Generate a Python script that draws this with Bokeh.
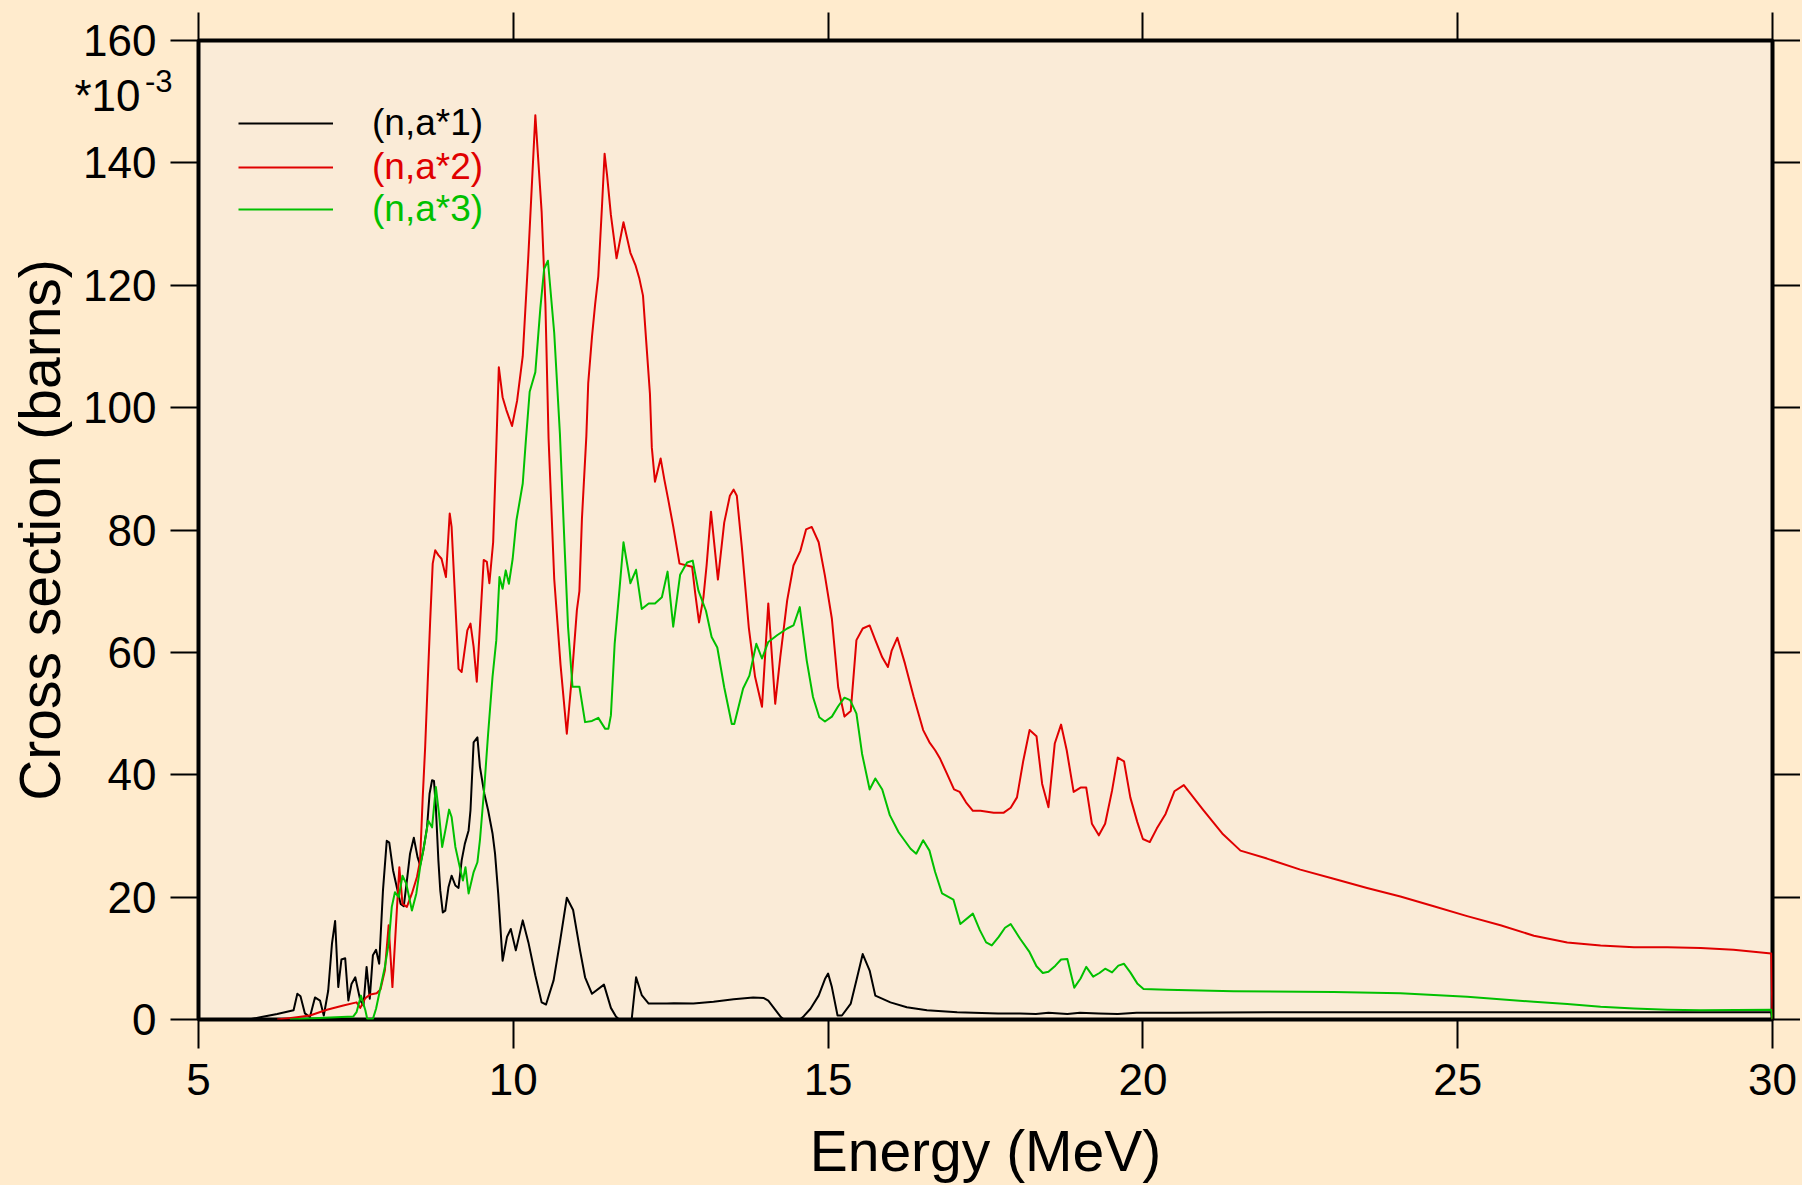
from bokeh.plotting import figure
from bokeh.models import LinearAxis, FixedTicker, Legend, LegendItem, Range1d, CustomJSTickFormatter
from bokeh.embed import file_html
from bokeh.resources import INLINE

# ---------------- data (energy in MeV, cross section in 1e-3 barns) ----------------
x_ticks = [5, 10, 15, 20, 25, 30]
y_ticks = [0, 20, 40, 60, 80, 100, 120, 140, 160]
mult_base_pos = [151.0]      # y position of the "*10" multiplier note
mult_exp_pos = [153.3]       # y position of its exponent "-3"

black_E = [5.80, 6.00, 6.25, 6.51, 6.57, 6.62, 6.69, 6.77, 6.85, 6.93, 6.99, 7.06, 7.12, 7.17, 7.22,
           7.27, 7.33, 7.38, 7.43, 7.49, 7.57, 7.62, 7.67, 7.72, 7.77, 7.82, 7.87, 7.93, 7.99, 8.03,
           8.09, 8.15, 8.21, 8.26, 8.31, 8.36, 8.42, 8.48, 8.52, 8.57, 8.63, 8.67, 8.71, 8.74, 8.77,
           8.81, 8.84, 8.88, 8.92, 8.97, 9.02, 9.08, 9.13, 9.18, 9.23, 9.29, 9.32, 9.37, 9.43, 9.47,
           9.54, 9.60, 9.67, 9.71, 9.76, 9.83, 9.90, 9.96, 10.04, 10.15, 10.24, 10.35, 10.45, 10.52,
           10.64, 10.74, 10.85, 10.95, 11.06, 11.14, 11.25, 11.44, 11.55, 11.63, 11.68, 11.88, 11.95,
           12.04, 12.15, 12.44, 12.55, 12.86, 13.18, 13.50, 13.81, 13.98, 14.05, 14.25, 14.30, 14.55,
           14.60, 14.72, 14.85, 14.95, 15.00, 15.06, 15.15, 15.22, 15.36, 15.45, 15.55, 15.66, 15.75,
           15.99, 16.25, 16.57, 17.05, 17.31, 17.70, 18.05, 18.30, 18.50, 18.80, 19.00, 19.30, 19.60,
           19.90, 20.50, 22.00, 25.00, 28.00, 29.98, 30.00]
black_v = [0.0, 0.4, 0.9, 1.5, 4.2, 3.8, 1.0, 0.4, 3.6, 3.1, 0.65, 4.7, 12.4, 16.1, 5.3,
           9.8, 10.0, 3.1, 5.8, 6.9, 3.1, 2.3, 8.6, 3.4, 10.5, 11.4, 9.1, 21.1, 29.2, 28.9,
           24.4, 21.6, 18.9, 18.5, 22.7, 27.1, 29.7, 26.5, 25.2, 27.6, 31.4, 36.9, 39.1, 39.0, 34.7,
           26.0, 21.1, 17.5, 17.8, 21.6, 23.5, 21.9, 21.5, 26.0, 28.7, 30.9, 34.2, 45.3, 46.1, 41.3,
           36.9, 34.2, 30.4, 27.1, 20.6, 9.6, 13.5, 14.8, 11.3, 16.2, 12.6, 7.2, 2.8, 2.45,
           6.4, 12.6, 19.9, 17.9, 11.3, 6.9, 4.2, 5.7, 1.9, 0.5, 0.0, 0.0, 6.9,
           4.0, 2.6, 2.6, 2.65, 2.6, 2.9, 3.3, 3.6, 3.5, 3.1, 0.4, 0.0, 0.0,
           0.4, 1.75, 3.9, 6.6, 7.5, 5.3, 0.65, 0.65, 2.6, 6.4, 10.7, 8.0, 3.9,
           2.8, 2.0, 1.5, 1.2, 1.1, 1.0, 1.0, 0.9, 1.1, 0.9, 1.1, 1.0, 0.9,
           1.1, 1.1, 1.2, 1.2, 1.2, 1.2, 0.0]

red_E = [6.25, 6.50, 6.77, 7.04, 7.30, 7.51, 7.57, 7.65, 7.73, 7.83, 7.89, 7.96, 8.02, 8.08, 8.15,
         8.19, 8.24, 8.31, 8.39, 8.47, 8.52, 8.56, 8.60, 8.64, 8.68, 8.72, 8.76, 8.81, 8.86, 8.93,
         8.99, 9.02, 9.13, 9.18, 9.27, 9.32, 9.37, 9.42, 9.53, 9.58, 9.62, 9.68, 9.73, 9.77, 9.83,
         9.89, 9.98, 10.06, 10.15, 10.24, 10.35, 10.45, 10.51, 10.56, 10.65, 10.75, 10.85, 10.93,
         11.01, 11.05, 11.09, 11.16, 11.19, 11.25, 11.30, 11.35, 11.41, 11.45, 11.49, 11.55, 11.64,
         11.75, 11.86, 11.94, 12.00, 12.06, 12.11, 12.17, 12.20, 12.25, 12.34, 12.40, 12.46, 12.54,
         12.64, 12.76, 12.84, 12.89, 12.95, 13.02, 13.07, 13.14, 13.25, 13.35, 13.44, 13.50, 13.55,
         13.63, 13.74, 13.84, 13.95, 14.05, 14.16, 14.24, 14.35, 14.45, 14.56, 14.65, 14.74, 14.85,
         14.95, 15.06, 15.16, 15.26, 15.36, 15.45, 15.55, 15.66, 15.75, 15.86, 15.95, 16.01, 16.10,
         16.22, 16.36, 16.51, 16.61, 16.70, 16.78, 16.90, 17.00, 17.09, 17.19, 17.30, 17.42, 17.63,
         17.79, 17.90, 18.00, 18.10, 18.20, 18.31, 18.40, 18.50, 18.60, 18.70, 18.79, 18.90, 19.01,
         19.10, 19.19, 19.30, 19.40, 19.51, 19.60, 19.70, 19.80, 19.91, 20.00, 20.11, 20.22, 20.36,
         20.50, 20.65, 20.96, 21.26, 21.55, 21.97, 22.50, 23.03, 23.56, 24.09, 24.62, 25.15, 25.68,
         26.21, 26.74, 27.27, 27.80, 28.33, 28.86, 29.38, 29.98, 30.00]
red_v = [0.0, 0.3, 0.65, 1.6, 2.3, 2.8, 1.9, 3.5, 4.1, 4.3, 4.9, 8.0, 15.4, 5.3, 17.8,
         24.9, 18.9, 18.4, 20.6, 23.3, 26.0, 36.0, 44.5, 55.0, 65.2, 74.5, 76.7, 75.9, 75.3, 72.3,
         82.7, 80.5, 57.3, 56.8, 63.6, 64.7, 60.9, 55.2, 75.1, 74.8, 71.3, 78.0, 93.5, 106.6, 101.7,
         99.6, 97.0, 101.1, 108.4, 125.0, 147.8, 132.0, 116.9, 95.0, 72.0, 58.0, 46.7, 56.0,
         66.9, 70.0, 81.8, 95.3, 104.0, 111.6, 116.9, 121.5, 133.2, 141.5, 137.9, 131.5, 124.4,
         130.3, 125.3, 123.3, 121.2, 118.3, 111.0, 102.3, 93.5, 87.9, 91.7, 88.2, 85.0, 80.6,
         74.5, 74.2, 74.0, 69.6, 64.9, 69.0, 74.2, 83.0, 71.9, 81.2, 85.6, 86.6, 85.6,
         77.2, 64.1, 56.0, 51.1, 68.0, 51.6, 59.2, 68.5, 74.2, 76.6, 80.1, 80.5, 78.0,
         72.5, 65.5, 54.3, 49.5, 50.4, 62.0, 63.9, 64.4, 62.0, 59.2, 57.6, 60.3, 62.4,
         58.2, 52.7, 47.3, 45.3, 44.0, 42.6, 39.9, 37.6, 37.2, 35.5, 34.1, 34.1, 33.8,
         33.8, 34.6, 36.3, 42.3, 47.3, 46.3, 38.5, 34.7, 45.1, 48.2, 44.0, 37.2, 37.9,
         37.9, 32.0, 30.1, 32.0, 37.4, 42.8, 42.2, 36.3, 32.3, 29.5, 29.0, 31.2, 33.6,
         37.3, 38.3, 34.2, 30.4, 27.6, 26.3, 24.5, 23.0, 21.5, 20.1, 18.5, 16.9, 15.4,
         13.7, 12.6, 12.1, 11.8, 11.8, 11.7, 11.4, 10.8, 0.0]

green_E = [6.45, 7.00, 7.46, 7.51, 7.58, 7.65, 7.68, 7.77, 7.82, 7.88, 7.96, 8.02, 8.07, 8.12, 8.18,
           8.24, 8.30, 8.39, 8.46, 8.52, 8.57, 8.65, 8.71, 8.77, 8.82, 8.87, 8.93, 8.98, 9.02, 9.08,
           9.15, 9.20, 9.24, 9.29, 9.37, 9.43, 9.47, 9.54, 9.60, 9.67, 9.73, 9.78, 9.83, 9.88, 9.93,
           9.99, 10.05, 10.15, 10.20, 10.26, 10.35, 10.43, 10.49, 10.55, 10.65, 10.74, 10.82, 10.87,
           10.94, 11.05, 11.14, 11.25, 11.35, 11.46, 11.51, 11.55, 11.61, 11.69, 11.75, 11.86, 11.95,
           12.04, 12.15, 12.25, 12.36, 12.45, 12.54, 12.65, 12.76, 12.85, 12.94, 13.06, 13.15, 13.24,
           13.35, 13.47, 13.51, 13.65, 13.75, 13.86, 13.95, 14.05, 14.19, 14.35, 14.45, 14.55, 14.66,
           14.76, 14.86, 14.95, 15.06, 15.16, 15.26, 15.35, 15.45, 15.54, 15.66, 15.75, 15.86, 15.98,
           16.12, 16.31, 16.40, 16.51, 16.61, 16.70, 16.81, 16.99, 17.10, 17.30, 17.41, 17.51, 17.60,
           17.71, 17.81, 17.90, 18.05, 18.20, 18.31, 18.41, 18.50, 18.61, 18.70, 18.80, 18.91, 19.01,
           19.10, 19.21, 19.31, 19.40, 19.51, 19.61, 19.70, 19.80, 19.91, 20.01, 20.38, 21.44, 23.03,
           24.09, 25.15, 26.21, 26.74, 27.27, 27.80, 28.33, 28.86, 29.98, 30.00]
green_v = [0.0, 0.3, 0.5, 1.2, 3.9, 1.5, 0.1, 0.1, 1.75, 4.7, 8.6, 12.4, 18.4, 20.8, 20.0,
           23.5, 22.2, 17.8, 20.6, 24.9, 27.6, 32.5, 31.4, 38.0, 33.6, 28.2, 31.4, 34.3, 33.1, 28.2,
           24.9, 22.7, 24.9, 20.6, 24.1, 25.7, 29.3, 38.0, 46.7, 56.0, 62.0, 72.3, 70.4, 73.4, 71.2,
           75.3, 81.6, 87.6, 94.7, 102.6, 105.8, 116.3, 122.7, 124.0, 112.2, 95.8, 76.0, 64.1,
           54.4, 54.4, 48.6, 48.8, 49.3, 47.5, 47.5, 49.7, 61.4, 70.7, 78.0, 71.3, 73.5,
           67.1, 68.0, 68.0, 69.0, 73.2, 64.2, 72.7, 74.7, 75.0, 70.1, 66.8, 62.5, 60.8,
           54.3, 48.3, 48.3, 54.1, 56.2, 61.4, 59.0, 61.7, 62.8, 63.9, 64.4, 67.4, 58.7,
           52.7, 49.4, 48.7, 49.5, 51.2, 52.6, 52.2, 50.0, 43.4, 37.6, 39.4, 37.6, 33.4,
           30.6, 27.9, 27.1, 29.3, 27.6, 24.1, 20.6, 19.6, 15.6, 17.3, 14.6, 12.6, 12.1,
           13.5, 15.0, 15.6, 13.2, 11.0, 8.7, 7.6, 7.8, 8.8, 9.8, 9.9, 5.2, 6.7,
           8.6, 7.0, 7.6, 8.3, 7.7, 8.8, 9.1, 7.7, 5.9, 5.0, 4.85, 4.6, 4.5,
           4.3, 3.7, 2.9, 2.55, 2.1, 1.8, 1.6, 1.5, 1.6, 0.0]

series_labels = ["(n,a*1)", "(n,a*2)", "(n,a*3)"]
series_colors = ["#000000", "#e00000", "#00c000"]
x_title = "Energy (MeV)"
y_title = "Cross section (barns)"
mult_base = "*10"
mult_exp = "-3"

FONT = "Liberation Sans"
OUTER_BG = "#ffebcd"
INNER_BG = "#faebd7"

p = figure(frame_width=1574, frame_height=979,
           x_range=Range1d(5, 30), y_range=Range1d(0, 160),
           output_backend="svg", toolbar_location=None, tools="",
           min_border_left=198, min_border_right=28, min_border_top=40, min_border_bottom=165,
           background_fill_color=INNER_BG, border_fill_color=OUTER_BG,
           outline_line_color="black", outline_line_width=4)
p.xgrid.visible = False
p.ygrid.visible = False


def style_axis(ax, ticks, tick_out, show_labels, standoff):
    ax.ticker = FixedTicker(ticks=ticks)
    ax.major_tick_out = tick_out
    ax.major_tick_in = 0
    ax.major_tick_line_width = 2
    ax.major_tick_line_color = "black"
    ax.minor_tick_line_color = None
    ax.axis_line_color = None
    ax.major_label_text_font = FONT
    if show_labels:
        ax.major_label_text_color = "black"
        ax.major_label_text_font_size = "44px"
        ax.major_label_standoff = standoff
    else:
        ax.major_label_text_color = None
        ax.major_label_text_font_size = "1px"
        ax.major_label_standoff = 0


xa = p.xaxis[0]
style_axis(xa, x_ticks, 29, True, 15)
xa.axis_label = x_title
xa.axis_label_text_font = FONT
xa.axis_label_text_font_size = "57px"
xa.axis_label_text_font_style = "normal"
xa.axis_label_text_color = "black"
xa.axis_label_standoff = 21

ya = p.yaxis[0]
style_axis(ya, y_ticks, 28, True, 14)
ya.axis_label = y_title
ya.axis_label_text_font = FONT
ya.axis_label_text_font_size = "57px"
ya.axis_label_text_font_style = "normal"
ya.axis_label_text_color = "black"
ya.axis_label_standoff = 8

top_ax = LinearAxis()
style_axis(top_ax, x_ticks, 28, False, 0)
p.add_layout(top_ax, "above")
right_ax = LinearAxis()
style_axis(right_ax, y_ticks, 28, False, 0)
p.add_layout(right_ax, "right")


def note_axis(pos, text, size, standoff):
    ax = LinearAxis(ticker=FixedTicker(ticks=pos),
                    formatter=CustomJSTickFormatter(args=dict(t=text), code="return t"))
    ax.major_tick_out = 0
    ax.major_tick_in = 0
    ax.major_tick_line_color = None
    ax.minor_tick_line_color = None
    ax.axis_line_color = None
    ax.major_label_text_font = FONT
    ax.major_label_text_font_size = size
    ax.major_label_text_color = "black"
    ax.major_label_standoff = standoff
    return ax


# multiplier note "*10^-3" drawn as tick-less labels on extra left axes
p.add_layout(note_axis(mult_base_pos, mult_base, "44px", -135), "left")
p.add_layout(note_axis(mult_exp_pos, mult_exp, "31px", -167), "left")

renderers = []
for E, v, c in zip([black_E, red_E, green_E], [black_v, red_v, green_v], series_colors):
    r = p.line(E, v, line_color=c, line_width=2, line_join="round")
    renderers.append(r)

# legends (one per series so each label gets its own colour)
legend_y = [874, 830, 788]
for r, lab, c, vy in zip(renderers, series_labels, series_colors, legend_y):
    lg = Legend(items=[LegendItem(label=lab, renderers=[r])], location=(40, vy),
                glyph_width=95, glyph_height=44, label_standoff=39, padding=0, margin=0,
                spacing=0, label_text_font=FONT, label_text_font_size="37px",
                label_text_color=c, background_fill_alpha=0, border_line_alpha=0)
    p.add_layout(lg)

html = file_html(p, INLINE)
html = html.replace("</head>", "<style>html,body{background-color:%s;}</style></head>" % OUTER_BG, 1)
open("out.html", "w").write(html)
